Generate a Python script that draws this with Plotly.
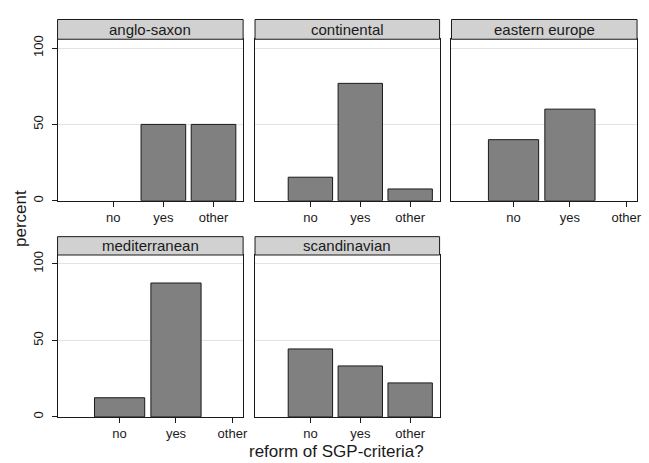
import plotly.graph_objects as go

W, H = 649, 463

categories = ["no", "yes", "other"]
cat_codes = [1, 2, 3]
panels = ["anglo-saxon", "continental", "eastern europe", "mediterranean", "scandinavian"]
anglo_saxon = [0, 50, 50]
continental = [15.4, 76.9, 7.7]
eastern_europe = [40, 60, 0]
mediterranean = [12.5, 87.5, 0]
scandinavian = [44.4, 33.3, 22.2]
values = [anglo_saxon, continental, eastern_europe, mediterranean, scandinavian]
y_ticks = [0, 50, 100]

# layout in pixels
cols_px = [(58, 245), (257, 443), (455, 642)]
rows_px = [  # (strip_top, plot_top, plot_bottom)
    (15.7, 35.7, 199.3),
    (235.7, 254.3, 418.3),
]
xranges = [[-0.11, 3.59], [-0.11, 3.59], [-0.10, 3.19], [-0.10, 3.19], [-0.11, 3.59]]
positions = [(0, 0), (0, 1), (0, 2), (1, 0), (1, 1)]

FONT = "Liberation Sans, Arial, sans-serif"
fig = go.Figure()
layout = dict(
    width=W, height=H, margin=dict(l=0, r=0, t=0, b=0),
    paper_bgcolor="white", plot_bgcolor="white", showlegend=False,
    font=dict(family=FONT, color="#1a1a1a"),
    shapes=[], annotations=[],
)

for i, (name, vals) in enumerate(zip(panels, values)):
    r, c = positions[i]
    x0, x1 = cols_px[c]
    st, pt, pb = rows_px[r]
    ax = "" if i == 0 else str(i + 1)
    fig.add_trace(go.Bar(
        x=cat_codes, y=[v if v > 0 else None for v in vals], width=0.89,
        marker=dict(color="#808080", line=dict(color="#1a1a1a", width=1)),
        xaxis="x" + ax, yaxis="y" + ax, hoverinfo="skip",
    ))
    layout["xaxis" + ax] = dict(
        domain=[x0 / W, x1 / W], anchor="y" + ax, range=xranges[i],
        tickvals=cat_codes, ticktext=categories, ticks="outside", ticklen=5,
        tickcolor="#1a1a1a", showgrid=False, zeroline=False,
        showline=True, linecolor="#1a1a1a", linewidth=1, mirror=True,
        tickfont=dict(size=13, family=FONT, color="#1a1a1a"), fixedrange=True,
    )
    layout["yaxis" + ax] = dict(
        domain=[1 - pb / H, 1 - pt / H], anchor="x" + ax, range=[0, 105.8],
        tickvals=y_ticks, ticks="outside" if c == 0 else "", ticklen=5,
        tickcolor="#1a1a1a", showticklabels=(c == 0), tickangle=-90,
        ticklabelstandoff=3,
        showgrid=True, gridcolor="#e3e3e3", gridwidth=1, zeroline=False,
        showline=True, linecolor="#1a1a1a", linewidth=1, mirror=True,
        tickfont=dict(size=13, family=FONT, color="#1a1a1a"), fixedrange=True,
    )
    layout["shapes"].append(dict(
        type="rect", xref="paper", yref="paper",
        x0=x0 / W, x1=x1 / W, y0=1 - pt / H, y1=1 - st / H,
        fillcolor="#d1d1d1", line=dict(color="#1a1a1a", width=1), layer="above",
    ))
    layout["annotations"].append(dict(
        text=name, xref="paper", yref="paper", x=(x0 + x1) / 2 / W,
        y=1 - (st + pt) / 2 / H, showarrow=False, xanchor="center", yanchor="middle",
        font=dict(size=15, family=FONT, color="#1a1a1a"),
    ))

layout["annotations"].append(dict(
    text="percent", xref="paper", yref="paper", x=20 / W, y=1 - 217 / H,
    textangle=-90, showarrow=False, xanchor="center", yanchor="middle",
    font=dict(size=17, family=FONT, color="#1a1a1a"),
))
layout["annotations"].append(dict(
    text="reform of SGP-criteria?", xref="paper", yref="paper", x=339 / W, y=1 - 453 / H,
    showarrow=False, xanchor="center", yanchor="middle",
    font=dict(size=17, family=FONT, color="#1a1a1a"),
))

fig.update_layout(**layout)
fig.write_html("out.html", config={"displayModeBar": False, "staticPlot": True})

# remove default page margin so the figure sits at the window's top-left
with open("out.html", encoding="utf-8") as f:
    html = f.read()
html = html.replace("<body>", '<body style="margin:0;padding:0;overflow:hidden">', 1)
with open("out.html", "w", encoding="utf-8") as f:
    f.write(html)
